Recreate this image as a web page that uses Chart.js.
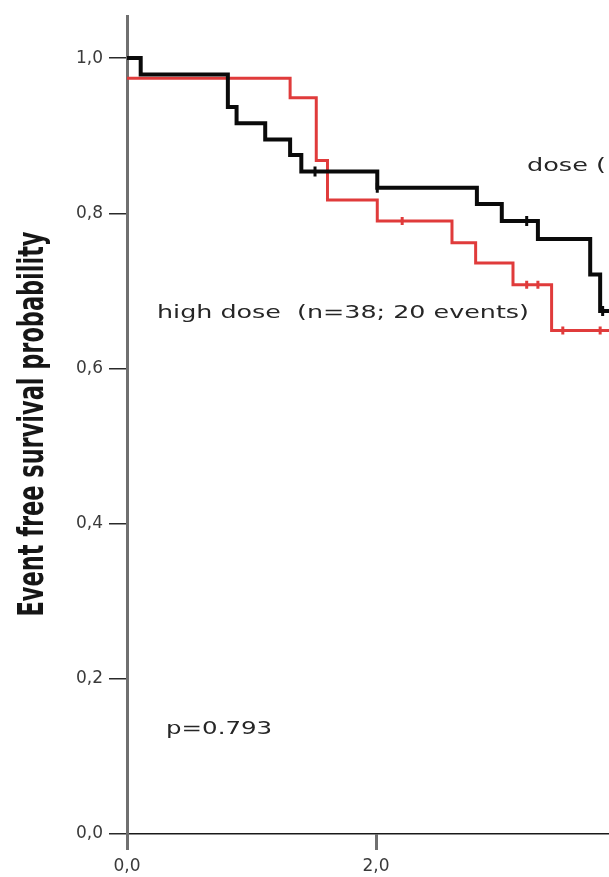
<!DOCTYPE html>
<html>
<head>
<meta charset="utf-8">
<script src="https://cdn.jsdelivr.net/npm/chart.js@4.4.1/dist/chart.umd.min.js"></script>
<style>
  html, body { margin: 0; padding: 0; background: #fff; overflow: hidden; }
  canvas { display: block; }
</style>
</head>
<body>
<canvas id="kmChart" width="609" height="877"></canvas>
<script>
// Kaplan-Meier steps (x = time, y = event free survival)
const otherDoseTimes = [0, 0.11, 0.81, 0.88, 1.11, 1.31, 1.40, 2.01, 2.81, 3.01, 3.30, 3.72, 3.80, 3.95];
const otherDoseSurv = [1.0, 0.979, 0.937, 0.916, 0.895, 0.875, 0.854, 0.833, 0.812, 0.790, 0.767, 0.721, 0.674, 0.674];
const otherDoseCensorTimes = [1.51, 2.01, 3.21, 3.82];
const otherDoseCensorSurv = [0.854, 0.833, 0.790, 0.674];

const highDoseTimes = [0, 1.31, 1.52, 1.61, 2.01, 2.61, 2.80, 3.10, 3.41, 3.95];
const highDoseSurv = [0.974, 0.949, 0.868, 0.817, 0.790, 0.762, 0.736, 0.708, 0.649, 0.649];
const highDoseCensorTimes = [2.21, 3.21, 3.30, 3.50, 3.80];
const highDoseCensorSurv = [0.790, 0.708, 0.708, 0.649, 0.649];

const xTickValues = [0, 2];
const yTickValues = [0, 0.2, 0.4, 0.6, 0.8, 1.0];

function toPoints(xs, ys) {
  return xs.map((x, i) => ({ x: x, y: ys[i] }));
}

function commaLabel(v) {
  return Number(v).toFixed(1).replace('.', ',');
}

// text drawn squeezed/stretched to the width it has in the picture
function drawFitted(ctx, text, font, color, x, y, opts) {
  ctx.save();
  ctx.font = font;
  ctx.fillStyle = color;
  ctx.textBaseline = 'alphabetic';
  ctx.textAlign = opts.align || 'left';
  ctx.translate(x, y);
  if (opts.rotate) ctx.rotate(opts.rotate);
  const w = ctx.measureText(text).width;
  const sx = opts.width ? opts.width / w : (opts.sx || 1);
  ctx.scale(sx, opts.sy || 1);
  ctx.fillText(text, 0, 0);
  ctx.restore();
}

const labelsPlugin = {
  id: 'kmLabels',
  afterDraw(chart) {
    const ctx = chart.ctx;
    drawFitted(ctx, 'Event free survival probability',
      'bold 34px "Liberation Sans Narrow", "DejaVu Sans Condensed", sans-serif',
      '#161616', 43, 424, { rotate: -Math.PI / 2, align: 'center', width: 385, sy: 1.05 });
    drawFitted(ctx, 'high dose  (n=38; 20 events)', '18px "DejaVu Sans"', '#262626', 157, 318, { sx: 1.41 });
    drawFitted(ctx, 'dose (', '18px "DejaVu Sans"', '#262626', 527, 171, { sx: 1.42 });
    drawFitted(ctx, 'p=0.793', '18px "DejaVu Sans"', '#262626', 166, 734, { sx: 1.36 });
  }
};

const ctx = document.getElementById('kmChart').getContext('2d');

const kmChart = new Chart(ctx, {
  type: 'scatter',
  data: {
    datasets: [
      {
        label: 'dose',
        data: toPoints(otherDoseTimes, otherDoseSurv),
        showLine: true,
        stepped: true,
        borderColor: '#0a0a0a',
        borderWidth: 4,
        pointRadius: 0
      },
      {
        label: 'dose censored',
        data: toPoints(otherDoseCensorTimes, otherDoseCensorSurv),
        showLine: false,
        pointStyle: 'line',
        rotation: 90,
        pointRadius: 5,
        borderColor: '#0a0a0a',
        borderWidth: 3
      },
      {
        label: 'high dose',
        data: toPoints(highDoseTimes, highDoseSurv),
        showLine: true,
        stepped: true,
        borderColor: '#e03b3b',
        borderWidth: 3,
        pointRadius: 0
      },
      {
        label: 'high dose censored',
        data: toPoints(highDoseCensorTimes, highDoseCensorSurv),
        showLine: false,
        pointStyle: 'line',
        rotation: 90,
        pointRadius: 4,
        borderColor: '#e03b3b',
        borderWidth: 3
      }
    ]
  },
  options: {
    responsive: false,
    animation: false,
    layout: { autoPadding: false, padding: { top: 12, right: 0, left: 0, bottom: 0 } },
    plugins: {
      legend: { display: false },
      tooltip: { enabled: false }
    },
    scales: {
      x: {
        type: 'linear',
        min: 0,
        max: 3.871,
        afterBuildTicks: s => { s.ticks = xTickValues.map(v => ({ value: v })); },
        afterFit: s => { s.height = 43; s.paddingRight = 0; },
        ticks: {
          callback: commaLabel,
          font: { family: 'DejaVu Sans', size: 17 },
          color: '#3a3a3a',
          padding: 6,
          maxRotation: 0
        },
        grid: {
          drawOnChartArea: false,
          drawTicks: true,
          tickLength: 16,
          color: '#707070',
          lineWidth: 3
        },
        border: { display: true, color: '#1a1a1a', width: 1.5 }
      },
      y: {
        type: 'linear',
        min: 0,
        max: 1.054,
        afterBuildTicks: s => { s.ticks = yTickValues.map(v => ({ value: v })); },
        afterFit: s => { s.width = 127; },
        ticks: {
          callback: commaLabel,
          font: { family: 'DejaVu Sans', size: 17 },
          color: '#3a3a3a',
          padding: 6
        },
        grid: {
          drawOnChartArea: false,
          drawTicks: true,
          tickLength: 18,
          color: '#2a2a2a',
          lineWidth: 1.5
        },
        border: { display: true, color: '#707070', width: 3 }
      }
    }
  },
  plugins: [labelsPlugin]
});
</script>
</body>
</html>
